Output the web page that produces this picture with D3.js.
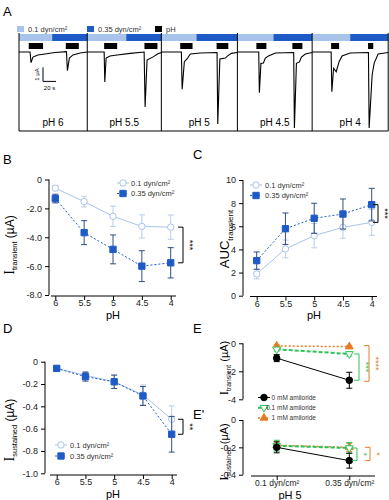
<!DOCTYPE html>
<html>
<head>
<meta charset="utf-8">
<script src="https://cdn.jsdelivr.net/npm/d3@7"></script>
<style>
  body { margin: 0; background: #fff; }
  text { font-family: "Liberation Sans", Arial, sans-serif; }
</style>
</head>
<body>
<div id="fig"></div>
<script>
// ---- data ----
var phLevels = ["6", "5.5", "5", "4.5", "4"];

var transLow = [-0.6, -1.53, -2.55, -3.25, -3.3];
var transLowErr = [0.17, 0.37, 0.7, 0.8, 0.84];
var transHigh = [-1.32, -3.68, -4.84, -6.0, -5.77];
var transHighErr = [0.3, 0.83, 1.0, 1.07, 1.05];

var aucLow = [1.88, 4.04, 5.19, 5.91, 6.34];
var aucLowErr = [0.42, 0.77, 1.05, 0.94, 1.12];
var aucHigh = [3.03, 5.79, 6.69, 7.06, 7.87];
var aucHighErr = [0.75, 1.36, 1.3, 1.3, 1.41];

var sustLow = [-0.06, -0.122, -0.18, -0.298, -0.516];
var sustLowErr = [0.01, 0.035, 0.06, 0.09, 0.12];
var sustHigh = [-0.06, -0.134, -0.18, -0.307, -0.65];
var sustHighErr = [0.01, 0.04, 0.06, 0.085, 0.16];

var shearLevels = ["0.1 dyn/cm²", "0.35 dyn/cm²"];
var amiloride = ["0 mM amiloride", "0.1 mM amiloride", "1 mM amiloride"];
var amilTrans = [[-1.06, -2.64], [-0.43, -0.76], [-0.19, -0.24]];
var amilTransErr = [[0.25, 0.57], [0.12, 0.15], [0.08, 0.08]];
var amilSust = [[-0.2, -0.297], [-0.188, -0.205], [-0.185, -0.2]];
var amilSustErr = [[0.04, 0.055], [0.04, 0.04], [0.03, 0.03]];

// panel A: representative traces, [time s, current uA]
var traceLabels = ["pH 6", "pH 5.5", "pH 5", "pH 4.5", "pH 4"];
var traceDur = [105, 114, 117, 115, 117];
var shearSwitch = [51, 60, 54, 55.4, 58.5];
var phPulses = [[[15, 37], [72, 92]], [[26, 46], [88, 108]], [[29, 48], [85, 103]],
                [[29.2, 44.6], [84.6, 100]], [[29.2, 41.5], [86, 94]]];
var traces = [
  [[0,0],[17,0],[18.5,-0.76],[21.5,-0.36],[29,-0.21],[40,-0.14],[55,-0.04],[73,0.03],
   [74.5,-1.34],[77.5,-0.43],[83,-0.21],[94,-0.07],[105,0]],
  [[0,0],[26,0],[27,-2.14],[29,-0.43],[35,-0.29],[46,-0.21],[66,-0.1],[87.5,0],
   [89,-3.93],[92,-0.57],[102,-0.33],[108,-0.14],[114,-0.04]],
  [[0,0],[30.8,0],[32,-2.66],[35.4,-0.69],[39.5,-0.5],[44.6,-0.14],[60,-0.07],[85.7,-0.04],
   [86.8,-5.14],[90,-0.5],[98.5,-0.43],[101.5,-0.29],[107.7,-0.1],[117,-0.04]],
  [[0,0],[32.8,0],[33.8,-2.91],[36.2,-0.81],[40,-0.79],[43,-0.43],[47.7,-0.29],[58.5,-0.07],
   [86.6,-0.04],[87.7,-5.43],[90.8,-0.81],[95.4,-0.71],[98.5,-0.36],[104.6,-0.14],[115,-0.04]],
  [[0,0],[29.2,0],[30.3,-2.84],[33,-1.16],[37,-1.41],[41.5,-0.69],[46,-0.29],[58.5,-0.07],
   [86.6,-0.04],[87.7,-5.43],[92.3,-1.64],[95.4,-0.79],[101.5,-0.14],[117,-0.04]]
];

// ---- styles ----
var cLight = "#a9c4ea", cLightErr = "#b9cde9", cDark = "#1e5bc6", cDarkErr = "#2f4f85";
var cGreen = "#2cc25a", cOrange = "#ea7a22";

var svg = d3.select("#fig").append("svg").attr("width", 389).attr("height", 500);

function letter(t, x, y) {
  svg.append("text").attr("x", x).attr("y", y).attr("font-size", 13).text(t);
}

function fmt(d, dec) { return d === 0 ? "0" : d.toFixed(dec); }

function yAxis(y, x, ticks, dec) {
  var g = svg.append("g").attr("transform", "translate(" + x + ",0)")
    .call(d3.axisLeft(y).tickValues(ticks).tickSize(4).tickFormat(function(d) { return fmt(d, dec); }));
  g.selectAll("text").attr("font-size", 9).attr("fill", "#222");
  g.select(".domain").attr("d", "M0," + y(ticks[0]) + "V" + y(ticks[ticks.length - 1]));
  return g;
}

function xAxis(x, y, x0, x1) {
  var g = svg.append("g").attr("transform", "translate(0," + y + ")")
    .call(d3.axisBottom(x).tickSize(4).tickSizeOuter(0));
  g.select(".domain").attr("d", "M" + x0 + ",0H" + x1);
  g.selectAll("text").attr("font-size", 9).attr("fill", "#222").attr("y", 4).attr("dy", "0.68em");
  return g;
}

function series(x, y, cats, vals, errs, o) {
  var pts = cats.map(function(c, i) { return { c: c, v: vals[i], e: errs[i] }; });
  var g = svg.append("g");
  g.append("path").datum(pts)
    .attr("fill", "none").attr("stroke", o.line).attr("stroke-width", o.lw || 1)
    .attr("stroke-dasharray", o.dash || null)
    .attr("d", d3.line().x(function(d) { return x(d.c); }).y(function(d) { return y(d.v); }));
  var eb = g.selectAll(".eb").data(pts).enter().append("g").attr("stroke", o.err).attr("stroke-width", 1);
  eb.append("line").attr("x1", function(d) { return x(d.c); }).attr("x2", function(d) { return x(d.c); })
    .attr("y1", function(d) { return y(d.v + d.e); }).attr("y2", function(d) { return y(d.v - d.e); });
  [1, -1].forEach(function(s) {
    eb.append("line").attr("x1", function(d) { return x(d.c) - 3; }).attr("x2", function(d) { return x(d.c) + 3; })
      .attr("y1", function(d) { return y(d.v + s * d.e); }).attr("y2", function(d) { return y(d.v + s * d.e); });
  });
  g.selectAll(".pt").data(pts).enter().append("path")
    .attr("transform", function(d) { return "translate(" + x(d.c) + "," + y(d.v) + ")" + (o.rot ? " rotate(180)" : ""); })
    .attr("d", d3.symbol().type(o.sym).size(o.size || 36))
    .attr("fill", o.fill).attr("stroke", o.stroke).attr("stroke-width", 1);
}

function legendItem(x, y, o, label, tx, anchor, fs) {
  svg.append("line").attr("x1", x - 6).attr("x2", x + 6).attr("y1", y).attr("y2", y)
    .attr("stroke", o.line).attr("stroke-width", o.lw || 1).attr("stroke-dasharray", o.dash || null);
  svg.append("path").attr("transform", "translate(" + x + "," + y + ")" + (o.rot ? " rotate(180)" : ""))
    .attr("d", d3.symbol().type(o.sym).size(o.size || 36)).attr("fill", o.fill).attr("stroke", o.stroke);
  svg.append("text").attr("x", tx).attr("y", y + 2.5).attr("font-size", fs || 7.5).attr("fill", "#333")
    .attr("text-anchor", anchor || "start").text(label);
}

function bracket(x, y0, y1, dir, color, stars) {
  svg.append("path").attr("fill", "none").attr("stroke", color).attr("stroke-width", 1)
    .attr("d", "M" + (x - dir * 5) + "," + y0 + "H" + x + "V" + y1 + "H" + (x - dir * 5));
  svg.append("text").attr("transform", "translate(" + (x + 3.5) + "," + ((y0 + y1) / 2) + ") rotate(90)")
    .attr("text-anchor", "middle").attr("font-size", 9).attr("fill", color).text(stars);
}

function yLabel(x, y, main, sub, size, serif) {
  var t = svg.append("text").attr("transform", "translate(" + x + "," + y + ") rotate(-90)")
    .attr("text-anchor", "middle").attr("font-size", size);
  t.append("tspan").attr("font-family", serif ? "Liberation Serif" : null).attr("font-size", serif ? size + 2 : size).text(main);
  t.append("tspan").attr("font-size", size * 0.62).attr("dy", size * 0.28).text(sub);
  if (serif) t.append("tspan").attr("dy", -size * 0.28).text(" (µA)");
}

var oLight = { line: cLight, err: cLightErr, sym: d3.symbolCircle, fill: "#fff", stroke: cLight, size: 32 };
var oDark = { line: cDark, err: cDarkErr, sym: d3.symbolSquare, fill: cDark, stroke: cDark, dash: "2,2", size: 40 };

// ---- A ----
letter("A", 3, 16);
[["0.1 dyn/cm²", cLight, 17], ["0.35 dyn/cm²", cDark, 87], ["pH", "#000", 155]].forEach(function(d) {
  svg.append("rect").attr("x", d[2]).attr("y", 26).attr("width", 7).attr("height", 6).attr("fill", d[1]);
  svg.append("text").attr("x", d[2] + 11).attr("y", 32).attr("font-size", 7.5).attr("fill", "#333").text(d[0]);
});
var yA = d3.scaleLinear().domain([0, -1]).range([52, 66]);
var px = 0.65, x0 = 19;
traces.forEach(function(tr, i) {
  var xA = d3.scaleLinear().domain([0, traceDur[i]]).range([x0, x0 + traceDur[i] * px]);
  svg.append("rect").attr("x", xA(0)).attr("y", 34).attr("width", xA(shearSwitch[i]) - xA(0)).attr("height", 7).attr("fill", cLight);
  svg.append("rect").attr("x", xA(shearSwitch[i])).attr("y", 34).attr("width", xA(traceDur[i]) - xA(shearSwitch[i])).attr("height", 7).attr("fill", cDark);
  phPulses[i].forEach(function(p) {
    svg.append("rect").attr("x", xA(p[0])).attr("y", 43).attr("width", xA(p[1]) - xA(p[0])).attr("height", 6).attr("fill", "#000");
  });
  svg.append("path").datum(tr).attr("fill", "none").attr("stroke", "#000").attr("stroke-width", 1.1)
    .attr("d", d3.line().x(function(d) { return xA(d[0]); }).y(function(d) { return yA(d[1]); }));
  svg.append("line").attr("x1", xA(0)).attr("x2", xA(0)).attr("y1", 33).attr("y2", 131).attr("stroke", "#000");
  svg.append("text").attr("x", (xA(0) + xA(traceDur[i])) / 2).attr("y", 126).attr("text-anchor", "middle")
    .attr("font-size", 10).text(traceLabels[i]);
  x0 = xA(traceDur[i]);
});
svg.append("line").attr("x1", x0).attr("x2", x0).attr("y1", 33).attr("y2", 131).attr("stroke", "#000");
svg.append("line").attr("x1", 19).attr("x2", x0).attr("y1", 131).attr("y2", 131).attr("stroke", "#000");
// scale bar
svg.append("path").attr("fill", "none").attr("stroke", "#000")
  .attr("d", "M43," + yA(-1.1) + "V" + yA(-2.1) + "H" + (43 + 20 * px));
svg.append("text").attr("transform", "translate(39," + ((yA(-1.1) + yA(-2.1)) / 2) + ") rotate(-90)")
  .attr("text-anchor", "middle").attr("font-size", 6).text("1 µA");
svg.append("text").attr("x", 49.5).attr("y", 90).attr("text-anchor", "middle").attr("font-size", 6).text("20 s");

// ---- B ----
letter("B", 3, 164);
var xB = d3.scalePoint().domain(phLevels).range([55.3, 170.7]);
var yB = d3.scaleLinear().domain([0, -8]).range([179.5, 295]);
yAxis(yB, 49, [0, -2, -4, -6, -8], 1);
xAxis(xB, 296, 51, 176);
series(xB, yB, phLevels, transLow, transLowErr, oLight);
series(xB, yB, phLevels, transHigh, transHighErr, oDark);
legendItem(123, 183, oLight, "0.1 dyn/cm²", 131);
legendItem(123, 193.5, oDark, "0.35 dyn/cm²", 131);
bracket(183, yB(transLow[4]), yB(transHigh[4]), 1, "#000", "***");
yLabel(14, 245, "I", "transient", 12, true);
svg.append("text").attr("x", 113).attr("y", 319).attr("text-anchor", "middle").attr("font-size", 11).text("pH");

// ---- C ----
letter("C", 193, 159);
var xC = d3.scalePoint().domain(phLevels).range([256.7, 371.7]);
var yC = d3.scaleLinear().domain([0, 10]).range([295.7, 180]);
yAxis(yC, 243, [0, 2, 4, 6, 8, 10], 0);
xAxis(xC, 296.5, 250, 377);
series(xC, yC, phLevels, aucLow, aucLowErr, oLight);
series(xC, yC, phLevels, aucHigh, aucHighErr, oDark);
legendItem(256, 185, oLight, "0.1 dyn/cm²", 265);
legendItem(256, 195.5, oDark, "0.35 dyn/cm²", 265);
bracket(378, yC(aucHigh[4]), yC(aucLow[4]), 1, "#000", "***");
yLabel(229, 239, "AUC", "transient", 13, false);
svg.append("text").attr("x", 314).attr("y", 319).attr("text-anchor", "middle").attr("font-size", 11).text("pH");

// ---- D ----
letter("D", 3, 333);
var xD = d3.scalePoint().domain(phLevels).range([56.7, 171.7]);
var yD = d3.scaleLinear().domain([0, -1]).range([361.7, 473.3]);
yAxis(yD, 45, [0, -0.2, -0.4, -0.6, -0.8, -1.0], 1);
xAxis(xD, 475, 50, 177);
series(xD, yD, phLevels, sustLow, sustLowErr, oLight);
series(xD, yD, phLevels, sustHigh, sustHighErr, oDark);
legendItem(61, 445, oLight, "0.1 dyn/cm²", 70);
legendItem(61, 456, oDark, "0.35 dyn/cm²", 70);
bracket(183, yD(sustLow[4]), yD(sustHigh[4]), 1, "#000", "**");
yLabel(14, 430, "I", "sustained", 12, true);
svg.append("text").attr("x", 113).attr("y", 497.5).attr("text-anchor", "middle").attr("font-size", 11).text("pH");

// ---- E / E' ----
var aOpts = [
  { line: "#000", err: "#000", sym: d3.symbolCircle, fill: "#000", stroke: "#000", size: 34 },
  { line: cGreen, err: cGreen, sym: d3.symbolTriangle, rot: true, fill: "#fff", stroke: cGreen, dash: "4,2", lw: 2, size: 26 },
  { line: cOrange, err: cOrange, sym: d3.symbolTriangle, fill: cOrange, stroke: cOrange, dash: "2,2", lw: 1.5, size: 26 }
];
var xE = d3.scalePoint().domain(shearLevels).range([276.7, 349.3]);

letter("E", 193, 333);
var yE = d3.scaleLinear().domain([0, -4]).range([343.3, 399.3]);
yAxis(yE, 243, [0, -2, -4], 0);
[2, 1, 0].forEach(function(k) { series(xE, yE, shearLevels, amilTrans[k], amilTransErr[k], aOpts[k]); });
bracket(359, yE(amilTrans[1][1]), yE(amilTrans[0][1]), 1, cGreen, "***");
bracket(369, yE(amilTrans[2][1]) - 1, yE(amilTrans[0][1]) + 1, 1, cOrange, "****");
yLabel(228, 368, "I", "transient", 11, true);
amiloride.forEach(function(a, k) { legendItem(264, 397.5 + k * 10.2, aOpts[k], a, 316, "end", 6.5); });

letter("E'", 193, 419);
var yF = d3.scaleLinear().domain([0, -0.4]).range([420, 474.7]);
yAxis(yF, 243, [0, -0.2, -0.4], 1);
var gF = xAxis(xE, 476, 251, 375);
gF.selectAll("text").attr("font-size", 8.5);
[2, 1, 0].forEach(function(k) { series(xE, yF, shearLevels, amilSust[k], amilSustErr[k], aOpts[k]); });
bracket(357, yF(amilSust[1][1]), yF(amilSust[0][1]), 1, cGreen, "*");
bracket(370, yF(amilSust[2][1]), yF(amilSust[0][1]), 1, cOrange, "*");
yLabel(228, 452, "I", "sustained", 11, true);
svg.append("text").attr("x", 290).attr("y", 498.5).attr("text-anchor", "middle").attr("font-size", 11).text("pH 5");
</script>
</body>
</html>
